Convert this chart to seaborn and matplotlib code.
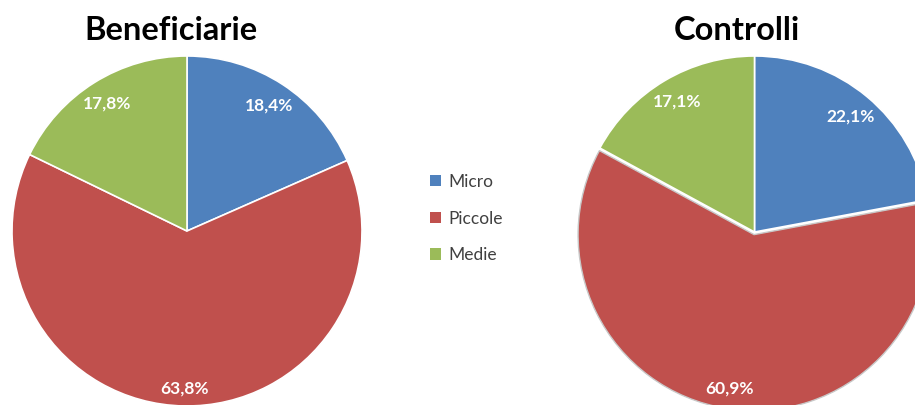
import matplotlib
matplotlib.use("Agg")
import matplotlib.pyplot as plt
import seaborn as sns
import numpy as np
from matplotlib.patches import Patch

sns.set_theme(style="white")
plt.rcParams['font.family'] = ['Lato', 'DejaVu Sans']

categories = ["Micro", "Piccole", "Medie"]
benef_values = [18.4, 63.8, 17.8]
control_values = [22.1, 60.9, 17.1]
titles = ["Beneficiarie", "Controlli"]
colors = ["#4F81BD", "#C0504D", "#9BBB59"]

W, H = 915, 405
fig = plt.figure(figsize=(W / 100, H / 100), dpi=100)


def px_axes(cx, cy, r):
    return fig.add_axes([(cx - r) / W, (H - cy - r) / H, 2 * r / W, 2 * r / H])


def draw(ax, vals, dists, explode):
    wedges, texts = ax.pie(vals, colors=colors, startangle=90, counterclock=False,
                           explode=explode,
                           wedgeprops=dict(edgecolor="white", linewidth=1.2))
    for w, v, d, e in zip(wedges, vals, dists, explode):
        ang = np.deg2rad((w.theta1 + w.theta2) / 2)
        ax.text((d + e) * np.cos(ang), (d + e) * np.sin(ang),
                f"{v:.1f}".replace(".", ",") + "%",
                ha="center", va="center", color="white", fontsize=12.5, fontweight="bold")
        w.set_clip_on(False)
        if e > 0:
            w.set_edgecolor("#C8C8C8")
            w.set_linewidth(1.0)
    ax.set_xlim(-1, 1)
    ax.set_ylim(-1, 1)
    ax.set_aspect("equal")
    ax.axis("off")


ax1 = px_axes(187, 231, 175)
draw(ax1, benef_values, [0.855, 0.90, 0.86], [0, 0, 0])
ax2 = px_axes(754.5, 232, 176)
draw(ax2, control_values, [0.85, 0.885, 0.86], [0, 0.015, 0])

fig.text(170.5 / W, 1 - 31 / H, titles[0], ha="center", va="center",
         fontsize=23.5, fontweight="bold", color="black")
fig.text(737 / W, 1 - 31 / H, titles[1], ha="center", va="center",
         fontsize=23.5, fontweight="bold", color="black")

handles = [Patch(facecolor=c, edgecolor="none") for c in colors]
fig.legend(handles, categories, loc="center left", bbox_to_anchor=(414 / W, 1 - 218.5 / H),
           frameon=False, fontsize=12.5, handlelength=0.65, handleheight=0.65,
           handletextpad=0.45, labelspacing=1.2, labelcolor="#404040")

fig.savefig("out.png", dpi=100)
